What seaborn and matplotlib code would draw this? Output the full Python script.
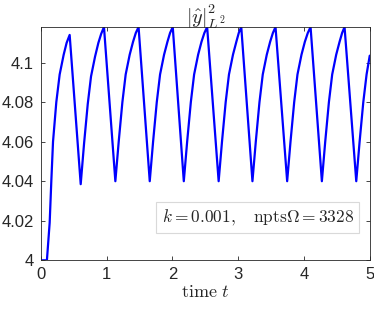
import numpy as np
import pandas as pd
import matplotlib
matplotlib.use("Agg")
import matplotlib.pyplot as plt
import seaborn as sns
from matplotlib.ticker import FormatStrFormatter

# values
time = [
    0.0, 0.09, 0.132, 0.157, 0.183, 0.233, 0.284, 0.345, 0.39, 0.436,
    0.604, 0.655, 0.711, 0.761, 0.822, 0.873, 0.915, 0.958,
    1.131, 1.182, 1.238, 1.288, 1.349, 1.40, 1.442, 1.484,
    1.654, 1.705, 1.761, 1.811, 1.872, 1.923, 1.963, 2.004,
    2.172, 2.223, 2.279, 2.329, 2.39, 2.441, 2.485, 2.527,
    2.702, 2.753, 2.809, 2.859, 2.92, 2.971, 3.008, 3.046,
    3.216, 3.267, 3.323, 3.373, 3.434, 3.485, 3.527, 3.567,
    3.744, 3.795, 3.851, 3.901, 3.962, 4.013, 4.058, 4.10,
    4.272, 4.323, 4.379, 4.429, 4.49, 4.541, 4.58, 4.617,
    4.795, 4.846, 4.902, 4.952, 5.0,
]
norm_y = [
    4.0, 4.0, 4.019, 4.040, 4.060, 4.080, 4.094, 4.104, 4.110, 4.114,
    4.0385, 4.059, 4.079, 4.093, 4.103, 4.110, 4.1145, 4.118,
    4.040, 4.060, 4.080, 4.094, 4.104, 4.1105, 4.115, 4.118,
    4.040, 4.060, 4.080, 4.094, 4.104, 4.1105, 4.115, 4.118,
    4.040, 4.060, 4.080, 4.094, 4.104, 4.1105, 4.115, 4.118,
    4.040, 4.060, 4.080, 4.094, 4.104, 4.1105, 4.115, 4.118,
    4.040, 4.060, 4.080, 4.094, 4.104, 4.1105, 4.115, 4.118,
    4.040, 4.060, 4.080, 4.094, 4.104, 4.1105, 4.115, 4.118,
    4.040, 4.060, 4.080, 4.094, 4.104, 4.1105, 4.115, 4.118,
    4.040, 4.060, 4.080, 4.094, 4.1035,
]
x_ticks = [0, 1, 2, 3, 4, 5]
y_ticks = [4.0, 4.02, 4.04, 4.06, 4.08, 4.1]

df = pd.DataFrame({"t": time, "y": norm_y})

sns.set_style("ticks")
plt.rcParams["font.family"] = ["Liberation Sans", "DejaVu Sans"]
plt.rcParams["mathtext.fontset"] = "cm"

axis_col = "#262626"
fig = plt.figure(figsize=(3.74, 3.09), dpi=100)
ax = fig.add_axes([0.1096, 0.1576, 0.879, 0.755])

sns.lineplot(data=df, x="t", y="y", sort=False, estimator=None,
             color=(0, 0, 1), linewidth=1.6, ax=ax)

ax.set_xlim(0, 5)
ax.set_ylim(4.0, 4.118)
ax.set_xticks(x_ticks)
ax.set_yticks(y_ticks)
ax.yaxis.set_major_formatter(FormatStrFormatter("%g"))
ax.tick_params(direction="in", length=3, width=0.6, colors=axis_col,
               labelsize=12, top=True, right=True, pad=5)
for s in ax.spines.values():
    s.set_visible(True)
    s.set_color(axis_col)
    s.set_linewidth(0.6)

ax.set_title(r"$|\hat{y}|^2_{L^2}$", fontsize=14.5, pad=2)
ax.set_xlabel(r"$\mathrm{time}\ t$", fontsize=13, labelpad=1)
ax.set_ylabel("")

ax.text(0.659, 0.183, r"$k = 0.001, \quad \mathrm{npts}\Omega = 3328$",
        transform=ax.transAxes, ha="center", va="center", fontsize=12.5,
        bbox=dict(boxstyle="square,pad=0.3", fc="white", ec="#d9d9d9", lw=0.8))

fig.savefig("out.png", dpi=100)
